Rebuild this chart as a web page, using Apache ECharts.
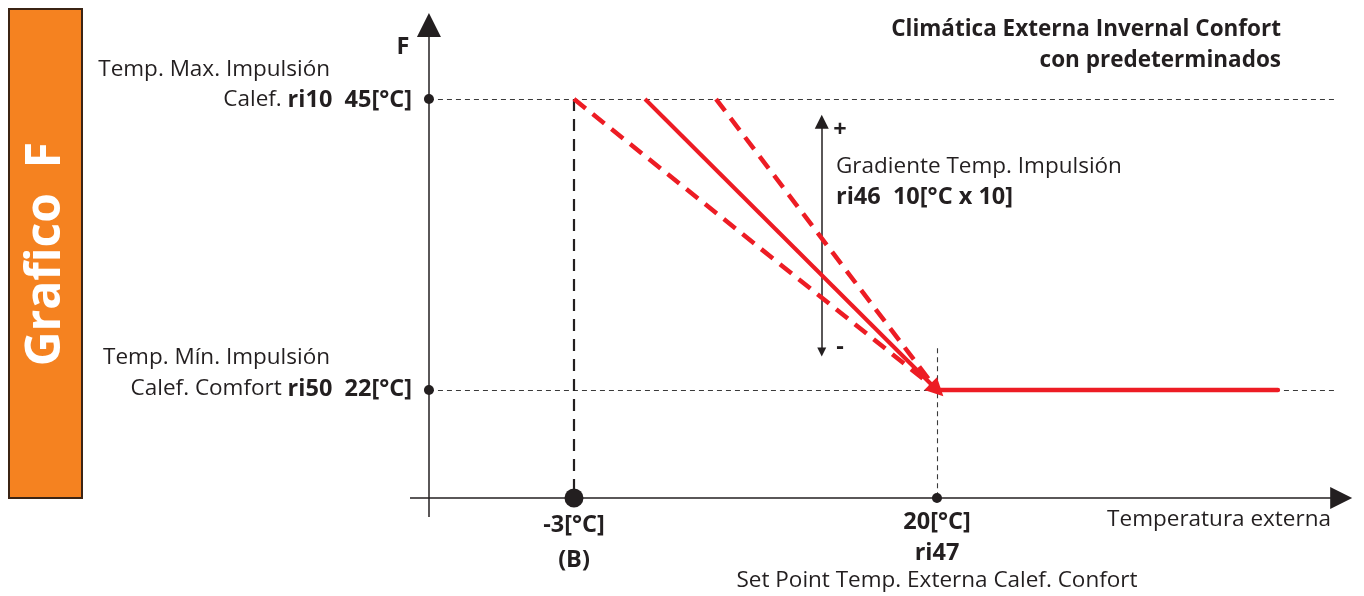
<!DOCTYPE html>
<html><head><meta charset="utf-8">
<script src="https://cdn.jsdelivr.net/npm/echarts@6/dist/echarts.min.js"></script>
<style>html,body{margin:0;padding:0;background:#fff}#c{width:1364px;height:596px}</style>
</head><body><div id="c"></div>
<script>
// ---- data ----
const xMarks = [-3, 20];            // outside temperatures marked on the x axis
const yLevels = [22, 45];           // min / max flow temperatures
const gradientStarts = [-3, 1.5, 6];// x where each gradient line reaches the max level
const setPoint = [20, 22];
const flatEnd = 41.6;
const xRange = [-13.39, 46.36];
const yRange = [11.96, 51.8];
const axisCross = [-12.19, 13.46];
const guideEnd = 45.2;
const setPointGuideTop = 25.3;
const gradArrow = [12.7, 25.0, 43.2]; // x, bottom, top

const RED = '#ED1C24', INK = '#231F20', FONT = 'Open Sans';
const chart = echarts.init(document.getElementById('c'));

function seg(name, coords, style, symbol, symbolSize) {
  return {
    type: 'lines', coordinateSystem: 'cartesian2d', name, clip: false, silent: true,
    symbol: symbol || ['none', 'none'], symbolSize: symbolSize || 10,
    lineStyle: Object.assign({ opacity: 1 }, style),
    data: [{ coords }], z: style.z || 2
  };
}

const series = [];
// axes
series.push(seg('xAxisLine', [[xRange[0], axisCross[1]], [xRange[1] - 0.75, axisCross[1]]],
  { color: INK, width: 1.5 }, ['none', 'triangle'], [16, 22]));
series.push(seg('yAxisLine', [[axisCross[0], yRange[0]], [axisCross[0], yRange[1] - 0.95]],
  { color: INK, width: 1.5 }, ['none', 'triangle'], [18, 24]));
// horizontal guides
yLevels.forEach(v => series.push(seg('guide' + v, [[axisCross[0], v], [guideEnd, v]],
  { color: '#3a3a3a', width: 1.1, type: [5, 4] })));
// vertical guides
series.push(seg('guideB', [[xMarks[0], yLevels[1]], [xMarks[0], axisCross[1]]],
  { color: INK, width: 2.2, type: [12, 8] }));
series.push(seg('guideSP', [[xMarks[1], setPointGuideTop], [xMarks[1], axisCross[1]]],
  { color: '#3a3a3a', width: 1.1, type: [5, 4] }));
// gradient double arrow
series.push(seg('gradArrow', [[gradArrow[0], gradArrow[1]], [gradArrow[0], gradArrow[2]]],
  { color: INK, width: 1.5 }, ['triangle', 'triangle'], [9, 14]));
// red curves
series.push(seg('gradLow', [[gradientStarts[0], yLevels[1]], setPoint],
  { color: RED, width: 4.5, type: [15, 9], z: 5 }));
series.push(seg('gradHigh', [[gradientStarts[2], yLevels[1]], setPoint],
  { color: RED, width: 4.5, type: [15, 9], z: 5 }));
series.push(seg('gradMain', [[gradientStarts[1], yLevels[1]], setPoint],
  { color: RED, width: 4, z: 5 }, ['none', 'triangle'], [11, 18]));
series.push({
  type: 'line', name: 'flat', data: [setPoint, [flatEnd, setPoint[1]]], symbol: 'none',
  lineStyle: { color: RED, width: 4.5, cap: 'round' }, z: 5, silent: true
});
// dots
series.push({
  type: 'scatter', name: 'dots', silent: true, itemStyle: { color: INK, opacity: 1 }, z: 6,
  symbolSize: 10,
  data: [[axisCross[0], yLevels[1]], [axisCross[0], yLevels[0]], [xMarks[1], axisCross[1]]]
});
series.push({
  type: 'scatter', name: 'dotB', silent: true, itemStyle: { color: INK, opacity: 1 }, z: 6,
  symbolSize: 19, data: [[xMarks[0], axisCross[1]]]
});

const REG = '22.5px "' + FONT + '"', BOLD = 'bold 23.5px "' + FONT + '"';
const txt = (x, y, text, o, extra) => Object.assign({
  type: 'text', x, y, silent: true,
  style: Object.assign({ text, fill: INK, font: REG, align: 'left', verticalAlign: 'middle' }, o || {})
}, extra || {});
const rich = {
  n: { fontFamily: FONT, fontSize: 22.5, color: INK },
  b: { fontFamily: FONT, fontSize: 23.5, fontWeight: 'bold', color: INK }
};

chart.setOption({
  animation: false,
  grid: { left: 410, right: 11, top: 13, bottom: 79 },
  xAxis: { type: 'value', min: xRange[0], max: xRange[1], show: false },
  yAxis: { type: 'value', min: yRange[0], max: yRange[1], show: false },
  series,
  graphic: [
    { type: 'rect', shape: { x: 9, y: 9, width: 73, height: 489 },
      style: { fill: '#F58220', stroke: '#3b2414', lineWidth: 2 } },
    txt(46, 254, 'Grafico  F', { font: 'bold 48px "' + FONT + '"', fill: '#fff', align: 'center' }, { rotation: Math.PI / 2 }),
    txt(403, 47, 'F', { font: BOLD, align: 'center' }),
    txt(330, 70, 'Temp. Max. Impulsión', { align: 'right' }),
    txt(412, 100, '{n|Calef. }{b|ri10  45[°C]}', { align: 'right', rich }),
    txt(330, 358, 'Temp. Mín. Impulsión', { align: 'right' }),
    txt(412, 389, '{n|Calef. Comfort }{b|ri50  22[°C]}', { align: 'right', rich }),
    txt(1281, 30, 'Climática Externa Invernal Confort', { align: 'right', font: 'bold 22.5px "' + FONT + '"' }),
    txt(1281, 61, 'con predeterminados', { align: 'right', font: 'bold 22.5px "' + FONT + '"' }),
    txt(840, 130, '+', { align: 'center', font: BOLD }),
    txt(840, 347, '-', { align: 'center', font: BOLD }),
    txt(836, 167, 'Gradiente Temp. Impulsión'),
    txt(836, 197, 'ri46  10[°C x 10]', { font: BOLD }),
    txt(574, 525, '-3[°C]', { align: 'center', font: BOLD }),
    txt(574, 560, '(B)', { align: 'center', font: BOLD }),
    txt(937, 522, '20[°C]', { align: 'center', font: BOLD }),
    txt(937, 553, 'ri47', { align: 'center', font: BOLD }),
    txt(937, 581, 'Set Point Temp. Externa Calef. Confort', { align: 'center' }),
    txt(1331, 520, 'Temperatura externa', { align: 'right' })
  ]
});
</script>
</body></html>
